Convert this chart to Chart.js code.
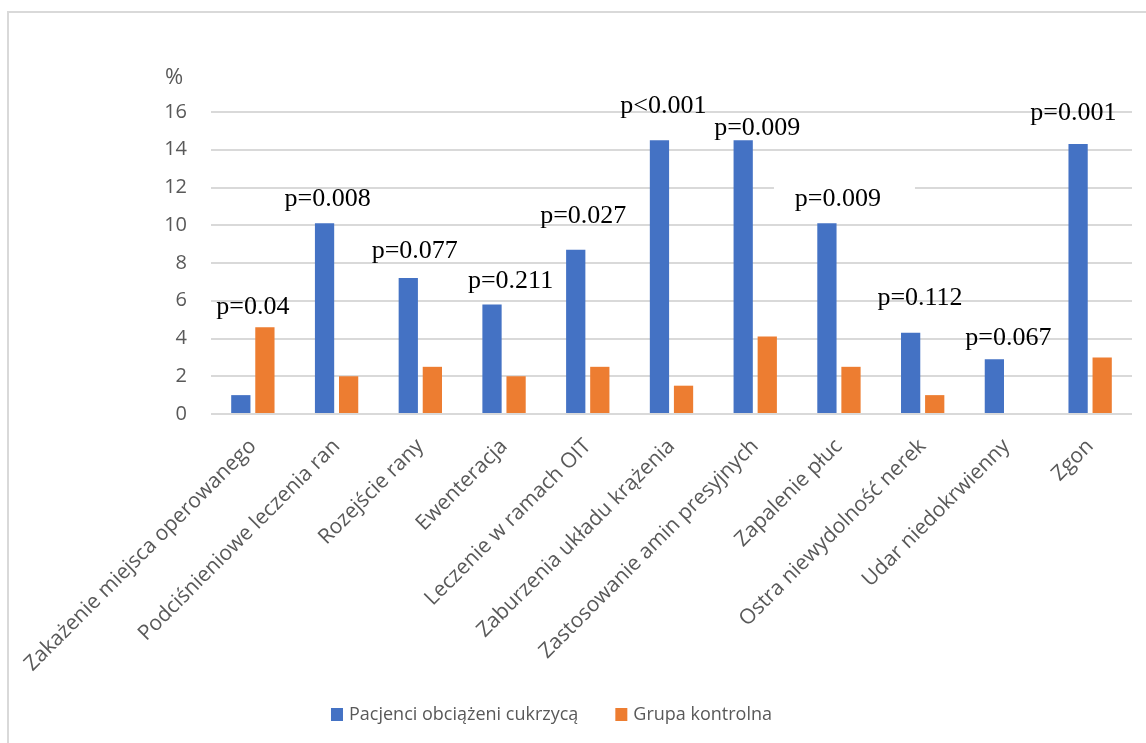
<!DOCTYPE html>
<html>
<head>
<meta charset="utf-8">
<script src="https://cdn.jsdelivr.net/npm/chart.js@4.4.0/dist/chart.umd.min.js"></script>
<style>
  html, body { margin: 0; padding: 0; background: #ffffff; }
  canvas { display: block; }
</style>
</head>
<body>
<canvas id="chart" width="1146" height="743"></canvas>
<script>
// ---- data ----
const categories = [
  'Zakażenie miejsca operowanego',
  'Podciśnieniowe leczenia ran',
  'Rozejście rany',
  'Ewenteracja',
  'Leczenie w ramach OIT',
  'Zaburzenia układu krążenia',
  'Zastosowanie amin presyjnych',
  'Zapalenie płuc',
  'Ostra niewydolność nerek',
  'Udar niedokrwienny',
  'Zgon'
];
const seriesNames = ['Pacjenci obciążeni cukrzycą', 'Grupa kontrolna'];
const diabeticValues = [1.0, 10.1, 7.2, 5.8, 8.7, 14.5, 14.5, 10.1, 4.3, 2.9, 14.3];
const controlValues  = [4.6, 2.0, 2.5, 2.0, 2.5, 1.5, 4.1, 2.5, 1.0, 0, 3.0];
const pValues = ['p=0.04', 'p=0.008', 'p=0.077', 'p=0.211', 'p=0.027', 'p<0.001',
                 'p=0.009', 'p=0.009', 'p=0.112', 'p=0.067', 'p=0.001'];
const yMin = 0, yMax = 16, yStep = 2;
const yUnit = '%';

// ---- p-value label placement (baseline height in axis units, sideways nudge in px) ----
const pLabelLevel = [5.30, 11.02, 8.26, 6.68, 10.14, 15.93, 14.78, 11.02, 5.77, 3.66, 15.58];
const pLabelShift = [0, -9, -5.6, 6.5, -4.5, -8.2, 2, -1, -2.7, 2, -16.7];
const pLabelBoxed = [false, false, false, false, false, false, false, true, false, false, false];

// ---- styles ----
const COLORS = ['#4472C4', '#ED7D31'];
const TEXT_GRAY = '#595959';
const GRID_GRAY = '#d9d9d9';
const SANS = '"Open Sans", "Noto Sans", sans-serif';
const SERIF = '"Liberation Serif", "Times New Roman", serif';

const framePlugin = {
  id: 'frame',
  beforeDraw(chart) {
    const ctx = chart.ctx;
    ctx.save();
    ctx.fillStyle = '#ffffff';
    ctx.fillRect(0, 0, chart.width, chart.height);
    ctx.strokeStyle = '#d9d9d9';
    ctx.lineWidth = 2;
    ctx.strokeRect(8, 12, chart.width + 40, chart.height + 40);
    ctx.restore();
  }
};

const unitPlugin = {
  id: 'unit',
  afterDraw(chart) {
    const ctx = chart.ctx;
    const y = chart.scales.y;
    ctx.save();
    ctx.font = '22px ' + SANS;
    ctx.fillStyle = TEXT_GRAY;
    ctx.textAlign = 'center';
    ctx.textBaseline = 'middle';
    ctx.fillText(yUnit, y.right - 37, chart.chartArea.top - 34);
    ctx.restore();
  }
};

const pLabelPlugin = {
  id: 'pLabels',
  afterDatasetsDraw(chart) {
    const ctx = chart.ctx;
    const xs = chart.scales.x, ys = chart.scales.y;
    ctx.save();
    ctx.font = '26px ' + SERIF;
    ctx.textAlign = 'center';
    ctx.textBaseline = 'alphabetic';
    pValues.forEach((txt, i) => {
      const x = xs.getPixelForValue(i) + pLabelShift[i];
      const y = ys.getPixelForValue(pLabelLevel[i]);
      if (pLabelBoxed[i]) {
        ctx.fillStyle = '#ffffff';
        ctx.fillRect(x - 64, y - 26, 141, 34);
      }
      ctx.fillStyle = '#000000';
      ctx.fillText(txt, x, y);
    });
    ctx.restore();
  }
};

const legendPlugin = {
  id: 'bottomLegend',
  afterDraw(chart) {
    const ctx = chart.ctx;
    const box = 12, boxGap = 6, itemGap = 37;
    const cy = 714, cx = 551.5;
    ctx.save();
    ctx.font = '18px ' + SANS;
    ctx.textBaseline = 'middle';
    ctx.textAlign = 'left';
    const ds = chart.data.datasets;
    const widths = ds.map(d => ctx.measureText(d.label).width);
    let total = 0;
    widths.forEach((w, i) => { total += box + boxGap + w + (i ? itemGap : 0); });
    let x = cx - total / 2;
    ds.forEach((d, i) => {
      ctx.fillStyle = d.backgroundColor;
      ctx.fillRect(x, cy - 6, box, box + 1);
      x += box + boxGap;
      ctx.fillStyle = TEXT_GRAY;
      ctx.fillText(d.label, x, cy + 1);
      x += widths[i] + itemGap;
    });
    ctx.restore();
  }
};

new Chart(document.getElementById('chart'), {
  type: 'bar',
  data: {
    labels: categories,
    datasets: [
      { label: seriesNames[0], data: diabeticValues, backgroundColor: COLORS[0], borderWidth: 0 },
      { label: seriesNames[1], data: controlValues, backgroundColor: COLORS[1], borderWidth: 0 }
    ]
  },
  options: {
    responsive: false,
    animation: false,
    devicePixelRatio: 1,
    categoryPercentage: 0.575,
    barPercentage: 0.8,
    layout: { padding: { top: 112, right: 14, bottom: 60, left: 0 } },
    plugins: {
      legend: { display: false },
      title: { display: false },
      tooltip: { enabled: false }
    },
    scales: {
      x: {
        grid: { display: false },
        border: { display: false },
        ticks: {
          autoSkip: false,
          minRotation: 45,
          maxRotation: 45,
          padding: 12,
          color: TEXT_GRAY,
          font: { family: SANS, size: 21 }
        },
        afterFit(scale) { scale.height = 743 - 60 - 414; }
      },
      y: {
        min: yMin,
        max: yMax,
        grid: { color: GRID_GRAY, lineWidth: 2, drawTicks: false },
        border: { display: false },
        ticks: {
          stepSize: yStep,
          padding: 24,
          color: TEXT_GRAY,
          font: { family: SANS, size: 20 }
        },
        afterFit(scale) { scale.width = 211; }
      }
    }
  },
  plugins: [framePlugin, unitPlugin, pLabelPlugin, legendPlugin]
});
</script>
</body>
</html>
